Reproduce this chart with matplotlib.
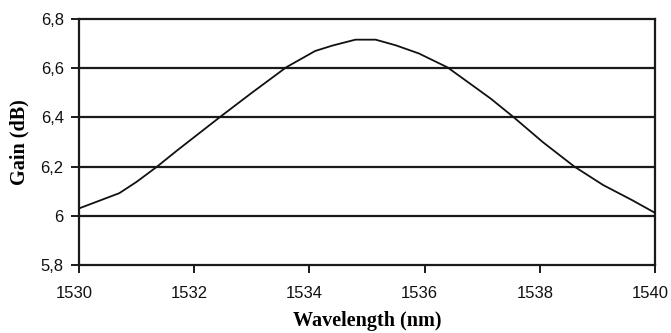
import matplotlib
matplotlib.use('Agg')
import matplotlib.pyplot as plt
from matplotlib.transforms import ScaledTranslation

# gain spectrum, read point by point
wavelength = [1530.0, 1530.7, 1531.0, 1531.35, 1531.7, 1532.45, 1533.0, 1533.6,
              1534.1, 1534.4, 1534.8, 1535.15, 1535.5, 1535.9, 1536.4, 1536.95,
              1537.15, 1537.55, 1538.05, 1538.6, 1539.1, 1539.6, 1540.0]
gain = [6.030, 6.092, 6.138, 6.199, 6.265, 6.402, 6.500, 6.604,
        6.670, 6.692, 6.716, 6.716, 6.693, 6.660, 6.603, 6.510,
        6.476, 6.400, 6.300, 6.200, 6.125, 6.064, 6.012]

xticks = [1530, 1532, 1534, 1536, 1538, 1540]
yticks = [5.8, 6.0, 6.2, 6.4, 6.6, 6.8]
ylabels = ['5,8', '6', '6,2', '6,4', '6,6', '6,8']

fig = plt.figure(figsize=(6.71, 3.33), dpi=100)
ax = fig.add_axes([79/671, 1 - 265/333, 576/671, 246/333])

ax.plot(wavelength, gain, color='#111111', lw=1.3, zorder=3)

ax.set_xlim(1530, 1540)
ax.set_ylim(5.8, 6.8)
ax.set_xticks(xticks)
ax.set_yticks(yticks)
ax.set_yticklabels(ylabels)

for y in yticks[1:-1]:
    ax.axhline(y, color='#1a1a1a', lw=1.6, zorder=1)

for s in ax.spines.values():
    s.set_color('#1a1a1a')
    s.set_linewidth(1.6)

ax.tick_params(direction='out', length=6, width=1.4, color='#1a1a1a',
               labelsize=12, labelcolor='#111111')
ax.tick_params(axis='x', pad=9)
ax.tick_params(axis='y', pad=5)

# x labels sit a little left of their ticks
shift = ScaledTranslation(-5/100, 0, fig.dpi_scale_trans)
for lab in ax.get_xticklabels():
    lab.set_transform(lab.get_transform() + shift)
for lab in ax.get_xticklabels() + ax.get_yticklabels():
    lab.set_family('Liberation Sans')

ax.set_xlabel('Wavelength (nm)', family='Liberation Serif', fontweight='bold',
              fontsize=14.5, labelpad=7)
ax.set_ylabel('Gain (dB)', family='Liberation Serif', fontweight='bold',
              fontsize=14.5, labelpad=8)

fig.savefig('out.png', dpi=100)
